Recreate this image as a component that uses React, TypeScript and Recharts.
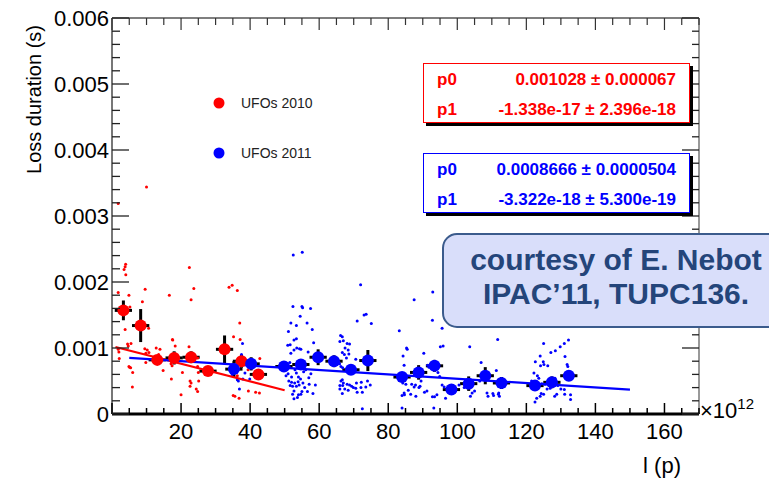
import React from 'react'
import {
  ScatterChart,
  Scatter,
  XAxis,
  YAxis,
  ErrorBar,
  ReferenceLine
} from 'recharts'

// x in units of 1e12 protons, y in ms (axis labels are shown in seconds)
const xTicks = [
  0, 5, 10, 15, 20, 25, 30, 35, 40, 45, 50, 55, 60, 65, 70, 75, 80, 85,
  90, 95, 100, 105, 110, 115, 120, 125, 130, 135, 140, 145, 150, 155, 160, 165, 170
]
const yTicks = [
  0, 0.2, 0.4, 0.6, 0.8, 1, 1.2, 1.4, 1.6, 1.8, 2, 2.2, 2.4, 2.6, 2.8, 3,
  3.2, 3.4, 3.6, 3.8, 4, 4.2, 4.4, 4.6, 4.8, 5, 5.2, 5.4, 5.6, 5.8, 6
]

// binned means, UFOs 2010
const redBinX = [3.3, 8.3, 13.1, 18.0, 22.9, 27.8, 32.6, 37.5, 42.4]
const redBinY = [1.57, 1.34, 0.82, 0.85, 0.86, 0.65, 0.98, 0.80, 0.60]
const redBinErr = [0.15, 0.25, 0.04, 0.1, 0.09, 0.03, 0.21, 0.1, 0.04]

// binned means, UFOs 2011
const blueBinX = [
  35.3, 40.3, 49.8, 54.7, 59.7, 64.3, 69.2, 74.1, 84.0, 88.8, 93.4, 98.3,
  103.3, 108.1, 112.8, 122.5, 127.4, 132.3
]
const blueBinY = [
  0.68, 0.76, 0.72, 0.75, 0.86, 0.80, 0.67, 0.81, 0.56, 0.63, 0.73, 0.37,
  0.46, 0.58, 0.47, 0.43, 0.48, 0.58
]
const blueBinErr = [
  0.12, 0.1, 0.04, 0.08, 0.12, 0.09, 0.05, 0.16, 0.06, 0.11, 0.09, 0.04,
  0.11, 0.13, 0.09, 0.07, 0.09, 0.05
]
const binHalfWidth = 2.5

// fit lines (end points)
const redFit = [{ x: 1, y: 1.015 }, { x: 50, y: 0.359 }]
const blueFit = [{ x: 5, y: 0.85 }, { x: 150, y: 0.368 }]

// individual events, UFOs 2010
const redDots = [
  [10.0, 3.44], [1.8, 3.19], [3.95, 2.27], [3.8, 2.23], [3.5, 2.19], [4.0, 2.11],
  [22.4, 2.22], [1.8, 1.84], [9.6, 1.89], [4.9, 1.8], [16.6, 1.8], [23.7, 1.9],
  [8.8, 1.7], [22.9, 1.73], [5.2, 1.62], [3.8, 1.28], [10.6, 1.3], [5.5, 1.07],
  [4.7, 1.03], [1.8, 0.98], [9.5, 0.99], [10.2, 0.97], [10.7, 0.93], [9.8, 0.92],
  [17.5, 1.13], [18.3, 1.03], [22.3, 1.02], [2.1, 0.84], [9.8, 0.78], [5.1, 0.71],
  [5.4, 0.7], [14.8, 0.66], [17.1, 0.76], [17.4, 0.73], [20.4, 0.63], [17.2, 0.53],
  [22.6, 0.5], [22.9, 0.47], [25.1, 0.5], [25.0, 0.63], [5.9, 0.41], [20.0, 0.29],
  [24.4, 0.38], [24.8, 0.34], [4.5, 1.06], [2.0, 0.94], [4.9, 0.72], [33.9, 1.92],
  [34.8, 1.95], [36.3, 1.87], [37.0, 1.38], [35.2, 1.17], [37.1, 1.13], [42.8, 0.84],
  [24.8, 0.85], [24.8, 0.72], [39.4, 0.67], [36.3, 0.58], [35.1, 0.28], [35.6, 0.27],
  [36.8, 0.24], [39.5, 0.35], [41.6, 0.33], [42.7, 0.32], [37.5, 0.86], [38.4, 0.82],
  [13.9, 0.98], [12.8, 1.0], [13.5, 0.9], [6.0, 0.63], [17.6, 1.12], [22.6, 0.42]
]

// individual events, UFOs 2011
const blueDots = [
  [37.8, 1.07], [37.5, 0.9], [36.3, 0.82], [36.7, 0.68], [36.3, 0.52], [36.6, 0.5],
  [36.9, 0.38], [37.9, 0.53], [39.9, 0.53], [34.8, 0.6], [38.5, 0.62],
  [52.5, 2.41], [55.1, 2.45], [52.4, 1.63], [55.0, 1.63], [55.2, 1.61], [57.5, 1.6],
  [54.5, 1.48], [51.8, 1.38], [56.5, 1.38], [53.4, 1.34], [58.0, 1.28], [51.1, 1.25],
  [52.7, 1.12], [53.4, 1.14], [50.9, 1.04], [51.6, 1.05], [53.5, 1.0], [54.7, 0.98],
  [54.3, 0.99], [52.7, 0.97], [58.4, 1.08], [56.8, 0.94], [51.8, 0.92], [51.5, 0.78],
  [51.3, 0.72], [53.0, 0.67], [51.0, 0.61], [53.4, 0.62], [55.5, 0.64], [56.1, 0.67],
  [57.6, 0.61], [52.0, 0.56], [54.0, 0.56], [54.6, 0.53], [52.0, 0.48], [52.9, 0.47],
  [53.9, 0.49], [55.3, 0.47], [57.1, 0.45], [58.9, 0.44], [51.6, 0.43], [52.3, 0.42],
  [53.4, 0.42], [54.2, 0.44], [52.7, 0.35], [55.0, 0.34], [52.3, 0.3], [54.0, 0.29],
  [54.7, 0.3], [56.6, 0.34], [58.2, 0.31], [52.7, 0.23], [53.7, 0.25], [50.4, 0.58],
  [51.2, 0.5], [55.8, 0.4], [57.0, 0.55],
  [72.0, 1.96], [71.0, 1.41], [73.0, 1.5], [73.6, 1.51], [75.1, 1.37], [66.2, 1.19],
  [66.7, 1.17], [66.0, 1.1], [67.0, 1.11], [68.1, 1.07], [68.8, 1.06], [67.5, 1.0],
  [68.4, 0.97], [66.7, 0.93], [67.3, 0.9], [68.6, 0.91], [67.9, 0.85], [70.6, 0.83],
  [65.9, 0.76], [66.3, 0.72], [66.8, 0.7], [66.7, 0.52], [66.3, 0.5], [67.0, 0.47],
  [68.1, 0.45], [68.8, 0.44], [69.4, 0.42], [69.9, 0.4], [70.8, 0.47], [70.6, 0.39],
  [71.0, 0.33], [72.2, 0.48], [72.1, 0.4], [73.5, 0.41], [72.5, 0.33], [67.4, 0.38],
  [66.8, 0.43], [68.4, 0.36], [66.0, 0.38], [66.7, 0.31], [66.0, 0.43], [72.5, 0.08],
  [74.0, 0.5], [74.8, 0.44],
  [87.5, 1.73], [92.9, 1.85], [83.2, 1.26], [92.8, 1.42], [95.6, 1.3], [85.3, 1.0],
  [85.5, 0.98], [90.3, 0.92], [84.3, 0.88], [84.6, 0.74], [95.1, 1.02], [95.9, 1.03],
  [91.4, 0.74], [91.8, 0.71], [94.4, 0.63], [94.9, 0.57], [84.2, 0.47], [85.1, 0.45],
  [86.8, 0.45], [87.5, 0.41], [87.9, 0.44], [85.8, 0.36], [84.6, 0.32], [84.0, 0.28],
  [84.7, 0.29], [89.2, 0.42], [88.9, 0.4], [91.2, 0.35], [92.8, 0.26], [93.4, 0.26],
  [94.1, 0.29], [95.6, 0.44], [96.2, 0.41], [84.0, 0.09], [93.2, 0.09], [96.6, 0.24],
  [86.5, 0.3], [88.0, 0.27], [89.5, 0.5], [90.5, 0.33],
  [103.6, 1.02], [111.7, 1.13], [106.9, 0.78], [111.3, 0.66], [104.3, 0.32], [103.8, 0.27],
  [108.6, 0.32], [110.3, 0.31], [108.9, 0.27], [110.5, 0.28], [112.0, 0.32], [112.2, 0.27],
  [111.9, 0.3], [98.9, 0.37], [99.3, 0.36], [100.5, 0.44], [102.0, 0.4], [105.0, 0.35],
  [106.5, 0.5], [113.5, 0.42],
  [125.0, 1.07], [132.2, 1.12], [131.0, 1.07], [129.8, 1.02], [128.4, 0.96], [127.1, 0.93],
  [124.0, 0.88], [122.6, 0.79], [124.9, 0.79], [125.1, 0.75], [131.2, 0.87], [131.8, 0.75],
  [132.0, 0.72], [124.1, 0.73], [123.2, 0.58], [123.6, 0.54], [123.5, 0.46], [124.5, 0.46],
  [125.4, 0.45], [126.7, 0.49], [127.8, 0.51], [128.3, 0.54], [125.0, 0.3], [124.3, 0.31],
  [124.0, 0.27], [123.0, 0.24], [122.5, 0.18], [126.0, 0.38], [126.9, 0.39], [128.2, 0.27],
  [128.8, 0.3], [130.0, 0.38], [131.0, 0.37], [131.1, 0.3], [132.8, 0.29], [132.8, 0.22],
  [129.1, 0.43], [126.2, 0.73], [122.2, 0.62], [121.5, 0.5]
]

const W = 769
const H = 483
const PLOT = { left: 112, top: 18, right: 699, bottom: 414 }
const FONT = '"Liberation Sans", Arial, Helvetica, sans-serif'
const RED = '#ff0000'
const BLUE = '#0000ff'

const toPoints = (arr: number[][]) => arr.map(([x, y]) => ({ x, y }))
const toBins = (xs: number[], ys: number[], errs: number[]) =>
  xs.map((x, i) => ({ x, y: ys[i], ex: binHalfWidth, ey: errs[i] }))

const XTick = (props: any) => {
  const { x, payload } = props
  const v = payload.value
  const major = v % 20 === 0
  return (
    <g>
      <line x1={x} x2={x} y1={PLOT.bottom} y2={PLOT.bottom - (major ? 11 : 6)} stroke="#000" strokeWidth={1.5} />
      <line x1={x} x2={x} y1={PLOT.top} y2={PLOT.top + (major ? 12 : 7)} stroke="#333" strokeWidth={1.2} />
      {major && v > 0 && (
        <text x={x} y={439} textAnchor="middle" fontSize={22} fontFamily={FONT} fill="#000">
          {v}
        </text>
      )}
    </g>
  )
}

const YTick = (props: any) => {
  const { y, payload } = props
  const v = payload.value
  const major = Math.abs(v - Math.round(v)) < 1e-6
  const len = major ? 17 : 8
  return (
    <g>
      <line x1={PLOT.left} x2={PLOT.left + len} y1={y} y2={y} stroke="#222" strokeWidth={1.3} />
      <line x1={PLOT.right} x2={PLOT.right - (major ? 17 : 7)} y1={y} y2={y} stroke="#222" strokeWidth={1.3} />
      {major && (
        <text x={109} y={y} dy={8} textAnchor="end" fontSize={22} fontFamily={FONT} fill="#000">
          {v === 0 ? '0' : (v / 1000).toFixed(3)}
        </text>
      )}
    </g>
  )
}

const smallDot = (color: string) => (p: any) => <circle cx={p.cx} cy={p.cy} r={1.5} fill={color} />
const bigDot = (color: string) => (p: any) => <circle cx={p.cx} cy={p.cy} r={6} fill={color} />

const FitBox = ({ top, color, p0, p1 }: { top: number; color: string; p0: string; p1: string }) => (
  <g fontFamily={FONT} fontWeight="bold" fontSize={17} fill={color}>
    <rect x={426} y={top + 3} width={267} height={60} fill="#000" />
    <rect x={423.5} y={top + 0.5} width={266} height={59} fill="#fff" stroke={color} strokeWidth={1} />
    <text x={437} y={top + 22}>p0</text>
    <text x={676} y={top + 22} textAnchor="end">{p0}</text>
    <text x={437} y={top + 52}>p1</text>
    <text x={676} y={top + 52} textAnchor="end">{p1}</text>
  </g>
)

export default function App() {
  return (
    <div style={{ position: 'absolute', left: 0, top: 0, width: W, height: H, background: '#fff' }}>
      <ScatterChart width={W} height={H} margin={{ top: 18, right: 70, left: 0, bottom: 0 }}>
        <XAxis
          type="number"
          dataKey="x"
          domain={[0, 170]}
          ticks={xTicks}
          interval={0}
          height={69}
          axisLine={{ stroke: '#000', strokeWidth: 3 }}
          tickLine={false}
          tick={<XTick />}
          allowDataOverflow
        />
        <YAxis
          type="number"
          dataKey="y"
          domain={[0, 6]}
          ticks={yTicks}
          interval={0}
          width={112}
          axisLine={{ stroke: '#777', strokeWidth: 2 }}
          tickLine={false}
          tick={<YTick />}
          allowDataOverflow
        />
        <ReferenceLine y={6} stroke="#555" strokeWidth={1.5} />
        <ReferenceLine x={170} stroke="#777" strokeWidth={1.5} />
        <Scatter data={toPoints(redDots)} shape={smallDot(RED)} isAnimationActive={false} />
        <Scatter data={toPoints(blueDots)} shape={smallDot(BLUE)} isAnimationActive={false} />
        <Scatter
          data={redFit}
          line={{ stroke: RED, strokeWidth: 2.2 }}
          shape={() => <g />}
          isAnimationActive={false}
        />
        <Scatter
          data={blueFit}
          line={{ stroke: BLUE, strokeWidth: 2.2 }}
          shape={() => <g />}
          isAnimationActive={false}
        />
        <Scatter data={toBins(redBinX, redBinY, redBinErr)} shape={bigDot(RED)} isAnimationActive={false}>
          <ErrorBar dataKey="ey" direction="y" width={0} stroke="#000" strokeWidth={3} isAnimationActive={false} />
          <ErrorBar dataKey="ex" direction="x" width={0} stroke="#000" strokeWidth={3} isAnimationActive={false} />
        </Scatter>
        <Scatter data={toBins(blueBinX, blueBinY, blueBinErr)} shape={bigDot(BLUE)} isAnimationActive={false}>
          <ErrorBar dataKey="ey" direction="y" width={0} stroke="#000" strokeWidth={3} isAnimationActive={false} />
          <ErrorBar dataKey="ex" direction="x" width={0} stroke="#000" strokeWidth={3} isAnimationActive={false} />
        </Scatter>
      </ScatterChart>

      <svg width={W} height={H} style={{ position: 'absolute', left: 0, top: 0, pointerEvents: 'none' }}>
        <text transform="rotate(-90)" x={-25} y={41} textAnchor="end" fontSize={20} fontFamily={FONT} fill="#000">
          Loss duration (s)
        </text>
        <text x={700} y={418} fontSize={22} fontFamily={FONT} fill="#000">
          ×10<tspan dy={-9} fontSize={15}>12</tspan>
        </text>
        <text x={681} y={473} textAnchor="end" fontSize={22} fontFamily={FONT} fill="#000">
          l (p)
        </text>

        <circle cx={219} cy={103} r={5.5} fill={RED} />
        <text x={241} y={108} fontSize={14} fontFamily={FONT} fill="#222">UFOs 2010</text>
        <circle cx={219} cy={153} r={5.5} fill={BLUE} />
        <text x={241} y={158} fontSize={14} fontFamily={FONT} fill="#222">UFOs 2011</text>

        <FitBox top={63} color={RED} p0="0.001028 ± 0.000067" p1="-1.338e-17 ± 2.396e-18" />
        <FitBox top={153} color={BLUE} p0="0.0008666 ± 0.0000504" p1="-3.322e-18 ± 5.300e-19" />

        <rect x={443} y={234} width={360} height={93} rx={14} fill="#d9defa" stroke="#3b5b8c" strokeWidth={2} />
        <g fontFamily={FONT} fontWeight="bold" fontSize={30} fill="#24457a" textAnchor="middle">
          <text x={616} y={270}>courtesy of E. Nebot</text>
          <text x={616} y={304}>IPAC’11, TUPC136.</text>
        </g>
      </svg>
    </div>
  )
}
